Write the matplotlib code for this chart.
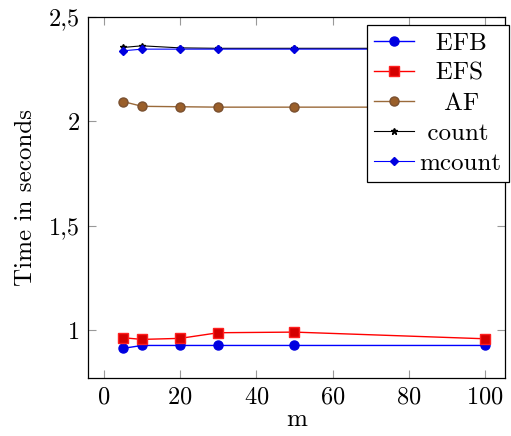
import matplotlib
matplotlib.use("Agg")
import matplotlib.pyplot as plt
from matplotlib.ticker import FuncFormatter

plt.rcParams['font.family'] = ['cmr10', 'DejaVu Serif']
plt.rcParams['axes.formatter.use_mathtext'] = True

m = [5, 10, 20, 30, 50, 100]
efb = [0.912, 0.926, 0.926, 0.926, 0.926, 0.926]
efs = [0.963, 0.955, 0.960, 0.987, 0.990, 0.958]
af = [2.095, 2.072, 2.070, 2.068, 2.068, 2.068]
count = [2.354, 2.362, 2.352, 2.350, 2.350, 2.350]
mcount = [2.338, 2.346, 2.346, 2.346, 2.346, 2.346]
labels = ['EFB', 'EFS', 'AF', 'count', 'mcount']

fig = plt.figure(figsize=(5.11, 4.36), dpi=100)
ax = fig.add_axes([0.172, 0.133, 0.816, 0.828])

ax.plot(m, efb, color='#0000ff', lw=1, marker='o', ms=6.5, mfc='#0000e0', mec='#0000e0')
ax.plot(m, efs, color='#ff0000', lw=1, marker='s', ms=6.5, mfc='#d40000', mec='#ff2020')
ax.plot(m, af, color='#9a6a3a', lw=1, marker='o', ms=6.5, mfc='#9a5f2a', mec='#7a5030')
ax.plot(m, count, color='black', lw=0.8, marker='*', ms=5)
ax.plot(m, mcount, color='#0000ff', lw=0.8, marker='D', ms=4, mfc='#0000e0', mec='#0000e0')

ax.set_xlim(-4.2, 105.2)
ax.set_ylim(0.77, 2.5)
ax.set_xticks([0, 20, 40, 60, 80, 100])
ax.set_yticks([1, 1.5, 2, 2.5])
ax.yaxis.set_major_formatter(FuncFormatter(lambda v, p: ('%g' % v).replace('.', ',')))
ax.tick_params(direction='in', length=6, width=0.8, color='#999999', top=True, right=True,
               labelsize=17.5, pad=6)
for s in ax.spines.values():
    s.set_linewidth(0.9)

ax.set_xlabel('m', fontsize=18, labelpad=0)
ax.set_ylabel('Time in seconds', fontsize=18, labelpad=8)

# centre legend labels: pad with spaces to the widest label
legkw = dict(loc='upper left', bbox_to_anchor=(0.669, 0.978), fancybox=False, edgecolor='black',
             prop={'size': 18}, handlelength=1.6, handletextpad=0.2, labelspacing=0.3,
             borderpad=0.3, borderaxespad=0, framealpha=1)
leg = ax.legend(labels, **legkw)
fig.canvas.draw()
r = fig.canvas.get_renderer()
widths = [t.get_window_extent(r).width for t in leg.get_texts()]
sp = ax.text(0, 0, '| |', fontsize=18)
sp0 = ax.text(0, 0, '||', fontsize=18)
spw = sp.get_window_extent(r).width - sp0.get_window_extent(r).width
sp.remove()
sp0.remove()
wmax = max(widths)
padded = [' ' * int(round((wmax - w) / 2 / spw)) + lab for lab, w in zip(labels, widths)]
leg.remove()
leg = ax.legend(padded, **legkw)
leg.get_frame().set_linewidth(0.9)

fig.savefig('out.png', dpi=100)
